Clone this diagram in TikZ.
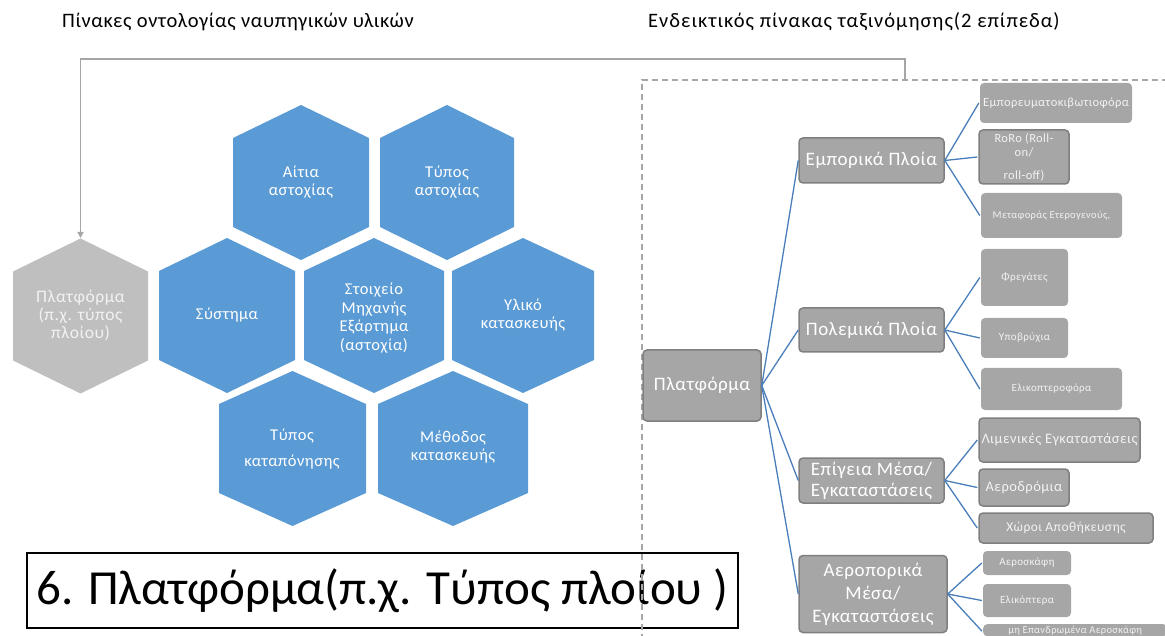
\documentclass[tikz,border=0pt]{standalone}
\usepackage{fontspec}
\setmainfont{Carlito}
\usetikzlibrary{arrows.meta}
\definecolor{hexblue}{HTML}{5B9BD5}
\definecolor{hexgrey}{HTML}{BFBFBF}
\definecolor{boxgrey}{HTML}{A6A6A6}
\definecolor{boxedge}{HTML}{7F7F7F}
\definecolor{linkblue}{HTML}{4A7EBB}
\definecolor{lightline}{HTML}{A6A6A6}
\newcommand{\hexshape}[3]{(#1-#3,#2-44.5) -- (#1,#2-77.5) -- (#1+#3,#2-44.5) -- (#1+#3,#2+44.5) -- (#1,#2+77.5) -- (#1-#3,#2+44.5) -- cycle}
\newcommand{\fsz}[2]{\fontsize{#1}{#2}\selectfont\addfontfeatures{LetterSpace=3}}
\tikzset{
  hextext/.style={text=white, align=center, font=\fsz{16.5}{18.5}, inner sep=0pt},
  lvl/.style={fill=boxgrey, draw=boxedge, line width=1.5pt, rounded corners=4pt, text=white, align=center, font=\fsz{19}{21}, inner sep=0pt},
  leaf/.style={fill=boxgrey, rounded corners=4pt, text=white!95!black, align=center, inner sep=0pt},
  leafedge/.style={leaf, draw=boxedge, line width=1.5pt},
  link/.style={linkblue, line width=1.3pt},
  greyline/.style={lightline, line width=1.5pt},
  dashline/.style={lightline, line width=2pt, dash pattern=on 6pt off 4pt},
  titletext/.style={anchor=west, inner sep=0pt, font=\fsz{20.5}{22}}
}
\begin{document}
\begin{tikzpicture}[x=1pt,y=-1pt]
\useasboundingbox (0,0) rectangle (1165,636);

% titles
\node[titletext] (t1) at (62,22) {Πίνακες οντολογίας ναυπηγικών υλικών};
\node[titletext, font=\fontsize{20.5}{22}\selectfont\addfontfeatures{LetterSpace=5}] (t2) at (648,22) {Ενδεικτικός πίνακας ταξινόμησης(2 επίπεδα)};

% hexagons
\fill[hexblue] \hexshape{301}{182.5}{68};
\fill[hexblue] \hexshape{447}{182.5}{67};
\fill[hexgrey] \hexshape{80.5}{316}{67.5};
\fill[hexblue] \hexshape{227}{315.5}{68};
\fill[hexblue] \hexshape{374}{315.5}{70};
\fill[hexblue] \hexshape{523}{315.5}{71};
\fill[hexblue] \hexshape{292.5}{448.5}{73.5};
\fill[hexblue] \hexshape{453}{448.5}{75};

\node[hextext] (aitia) at (301,182) {Αίτια\\αστοχίας};
\node[hextext] (typos) at (447,182) {Τύπος\\αστοχίας};
\node[hextext, text=white!95!black, font=\fsz{17.5}{18}] (plathex) at (80.5,316) {Πλατφόρμα\\(π.χ. τύπος\\πλοίου)};
\node[hextext] (systima) at (227,315) {Σύστημα};
\node[hextext] (stoixeio) at (374,318) {Στοιχείο\\Μηχανής\\Εξάρτημα\\(αστοχία)};
\node[hextext] (yliko) at (523,315) {Υλικό\\κατασκευής};
\node[hextext, font=\fsz{16.5}{26}] (kataponisi) at (292,449) {Τύπος\\καταπόνησης};
\node[hextext] (methodos) at (453,447) {Μέθοδος\\κατασκευής};

% connector from the taxonomy frame to the platform hexagon
\coordinate (dtop) at (905,80);
\coordinate (phtop) at (80.5,238);
\draw[greyline, -{Triangle[width=6pt,length=6pt]}] (dtop) -- ++(0,-21) -| (phtop);

% bottom caption box
\node[draw=black, line width=1.2pt, fill=white, minimum width=711pt, minimum height=75pt, inner sep=0pt, font=\fontsize{49}{52}\selectfont] (caption) at (382.5,590.5) {6. Πλατφόρμα(π.χ. Τύπος πλοίου )};

% dashed frame
\draw[dashline] (642,640) -- (642,80) -- (1170,80);

% tree
\node[lvl, minimum width=118pt, minimum height=71pt] (plat) at (702,385.5) {Πλατφόρμα};
\node[lvl, minimum width=145pt, minimum height=45pt] (emp) at (871.5,160.5) {Εμπορικά Πλοία};
\node[lvl, minimum width=145pt, minimum height=44pt] (pol) at (871.5,330) {Πολεμικά Πλοία};
\node[lvl, minimum width=145pt, minimum height=45pt] (epi) at (871.5,480.5) {Επίγεια Μέσα/\\Εγκαταστάσεις};
\node[lvl, minimum width=148pt, minimum height=77pt, font=\fsz{19}{23}] (aer) at (873,594) {Αεροπορικά\\Μέσα/\\Εγκαταστάσεις};

\node[leaf, minimum width=152pt, minimum height=40pt, font=\fsz{12.5}{14}] (l1) at (1056,103) {Εμπορευματοκιβωτιοφόρα};
\node[leafedge, minimum width=90pt, minimum height=54pt, font=\fsz{12.5}{14}] (l2) at (1024,157) {RoRo (Roll-\\on/\\[9pt]roll-off)};
\node[leaf, minimum width=141pt, minimum height=45pt, font=\fsz{10.5}{12}] (l3) at (1051.5,215.5) {Μεταφοράς Ετερογενούς,};
\node[leaf, minimum width=87pt, minimum height=57pt, font=\fsz{11}{12}] (l4) at (1024.5,277.5) {Φρεγάτες};
\node[leaf, minimum width=87pt, minimum height=40pt, font=\fsz{11}{12}] (l5) at (1024.5,338) {Υποβρύχια};
\node[leaf, minimum width=141pt, minimum height=42pt, font=\fsz{11}{12}] (l6) at (1051.5,389) {Ελικοπτεροφόρα};
\node[leafedge, minimum width=161pt, minimum height=44pt, font=\fsz{14.5}{16}] (l7) at (1059.5,440) {Λιμενικές Εγκαταστάσεις};
\node[leafedge, minimum width=90pt, minimum height=37pt, font=\fsz{14.5}{16}] (l8) at (1024,487.5) {Αεροδρόμια};
\node[leafedge, minimum width=174pt, minimum height=30pt, font=\fsz{13.5}{15}] (l9) at (1066,528) {Χώροι Αποθήκευσης};
\node[leaf, minimum width=88pt, minimum height=24pt, font=\fsz{11}{12}] (l10) at (1027,563) {Αεροσκάφη};
\node[leaf, minimum width=88pt, minimum height=33pt, font=\fsz{11}{12}] (l11) at (1027,600.5) {Ελικόπτερα};
\node[leaf, minimum width=184pt, minimum height=12pt, font=\fsz{10.5}{11}, anchor=north west] (l12) at (983,624) {μη Επανδρωμένα Αεροσκάφη};

% links
\foreach \c in {emp,pol,epi,aer} \draw[link] (plat.east) -- (\c.west);
\foreach \c in {l1,l2,l3} \draw[link] (emp.east) -- ([xshift=-1pt]\c.west);
\foreach \c in {l4,l5,l6} \draw[link] (pol.east) -- ([xshift=-1pt]\c.west);
\foreach \c in {l7,l8,l9} \draw[link] (epi.east) -- ([xshift=-1pt]\c.west);
\draw[link] (aer.east) -- ([xshift=-1pt]l10.west);
\draw[link] (aer.east) -- ([xshift=-1pt]l11.west);
\draw[link] (aer.east) -- ([xshift=-1pt,yshift=-1pt]l12.west);
\end{tikzpicture}
\end{document}
